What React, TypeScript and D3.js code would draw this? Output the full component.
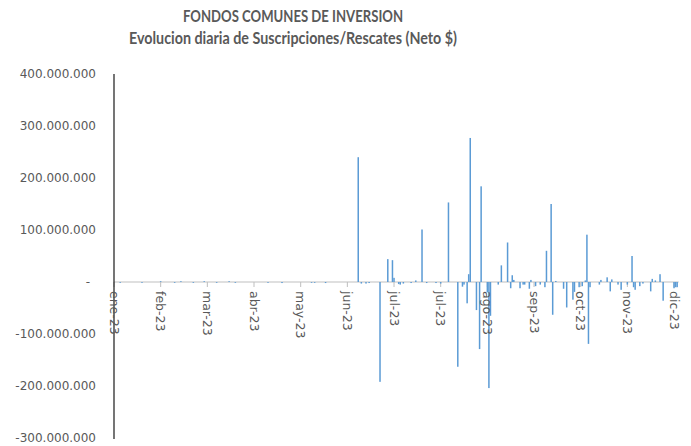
import React from "react";
import * as d3 from "d3";

const titleLine1 = "FONDOS COMUNES DE INVERSION";
const titleLine2 = "Evolucion diaria de Suscripciones/Rescates (Neto $)";

const dates = [
  "2023-01-06", "2023-01-20", "2023-02-01", "2023-02-10", "2023-02-14", "2023-02-22",
  "2023-03-01", "2023-03-09", "2023-03-17", "2023-03-21", "2023-04-11", "2023-04-20",
  "2023-05-09", "2023-05-11", "2023-05-18",
  "2023-06-08", "2023-06-10", "2023-06-13", "2023-06-15", "2023-06-22", "2023-06-27",
  "2023-06-30", "2023-07-01", "2023-07-04", "2023-07-05", "2023-07-07", "2023-07-12",
  "2023-07-15", "2023-07-19", "2023-07-22", "2023-07-28", "2023-07-31",
  "2023-08-05", "2023-08-11", "2023-08-14", "2023-08-15", "2023-08-17", "2023-08-18",
  "2023-08-19", "2023-08-23", "2023-08-25", "2023-08-26", "2023-08-30", "2023-08-31",
  "2023-09-01", "2023-09-06", "2023-09-08", "2023-09-12", "2023-09-14", "2023-09-15",
  "2023-09-16", "2023-09-20", "2023-09-22", "2023-09-23", "2023-09-26", "2023-09-27",
  "2023-09-30", "2023-10-03", "2023-10-06", "2023-10-07", "2023-10-10", "2023-10-11",
  "2023-10-13", "2023-10-18", "2023-10-20", "2023-10-24", "2023-10-25", "2023-10-28",
  "2023-10-30", "2023-11-01", "2023-11-02", "2023-11-03", "2023-11-04", "2023-11-10",
  "2023-11-11", "2023-11-15", "2023-11-17", "2023-11-18", "2023-11-22", "2023-11-24",
  "2023-11-28", "2023-12-01", "2023-12-02", "2023-12-03", "2023-12-06", "2023-12-08",
  "2023-12-13", "2023-12-14", "2023-12-16", "2023-12-19", "2023-12-21", "2023-12-28",
  "2023-12-29", "2023-12-30",
];

const values = [
  -1500000, -1500000, 1500000, -1500000, 1500000, -1500000,
  1500000, -1500000, 1500000, -1500000, -1500000, -2000000,
  -1500000, -1500000, -2000000,
  240000000, -3000000, -3000000, -2000000, -192000000, 44000000,
  42000000, 8000000, -4000000, -5000000, -3000000, -2000000,
  3000000, 101000000, -2000000, -2000000, -3000000,
  153000000, -163000000, -9000000, -5000000, -41000000, 15000000,
  277000000, -54000000, -129000000, 184000000, -20000000, -204000000,
  -65000000, -5000000, 32000000, 76000000, -12000000, 13000000,
  4000000, -12000000, -5000000, -5000000, -13000000, 4000000,
  -8000000, -5000000, -10000000, 60000000, 150000000, -63000000,
  2000000, -13000000, -49000000, -34000000, -19000000, -10000000,
  -8000000, 3000000, 91000000, -119000000, -10000000, -5000000,
  4000000, 9000000, -18000000, 5000000, -5000000, -15000000,
  -5000000, 50000000, -10000000, -15000000, -8000000, -3000000,
  -18000000, 6000000, 3000000, 15000000, -36000000, -12000000,
  -10000000, -10000000,
];

const tickDates = [
  "2023-01-02", "2023-02-01", "2023-03-03", "2023-04-02", "2023-05-02", "2023-06-01",
  "2023-07-01", "2023-07-31", "2023-08-30", "2023-09-29", "2023-10-29", "2023-11-28",
  "2023-12-28",
];
const tickLabels = [
  "ene-23", "feb-23", "mar-23", "abr-23", "may-23", "jun-23",
  "jul-23", "jul-23", "ago-23", "sep-23", "oct-23", "nov-23", "dic-23",
];

const yTicks = [400000000, 300000000, 200000000, 100000000, 0, -100000000, -200000000, -300000000];

const parse = d3.utcParse("%Y-%m-%d");
const locale = d3.formatLocale({
  decimal: ",",
  thousands: ".",
  grouping: [3],
  currency: ["$", ""],
  minus: "-",
});
const fmt = locale.format(",");

export default function App() {
  const W = 691;
  const H = 446;
  const x = d3
    .scaleUtc()
    .domain([parse("2023-01-02") as Date, parse("2023-12-31") as Date])
    .range([114, 678.7]);
  const y = d3.scaleLinear().domain([-300000000, 400000000]).range([438, 74]);
  const y0 = y(0);
  const textColor = "#595959";
  const axisFont = "'DejaVu Sans', Verdana, sans-serif";

  return (
    <svg
      width={W}
      height={H}
      style={{ position: "absolute", left: 0, top: 0, background: "#fff" }}
    >
      <rect x={0} y={0} width={W} height={H} fill="#fff" />
      <text
        x={293}
        y={22}
        textAnchor="middle"
        fill={textColor}
        fontFamily="Lato, 'Open Sans', sans-serif"
        fontWeight="bold"
        fontSize={17.5}
        textLength={220}
        lengthAdjust="spacingAndGlyphs"
      >
        {titleLine1}
      </text>
      <text
        x={293}
        y={43.5}
        textAnchor="middle"
        fill={textColor}
        fontFamily="Lato, 'Open Sans', sans-serif"
        fontWeight="bold"
        fontSize={17.5}
        textLength={328}
        lengthAdjust="spacingAndGlyphs"
      >
        {titleLine2}
      </text>

      {/* y tick labels */}
      {yTicks.map((t) => (
        <text
          key={t}
          x={t === 0 ? 90 : 96}
          y={y(t)}
          dy="0.35em"
          textAnchor="end"
          fill={textColor}
          fontFamily={axisFont}
          fontSize={12}
        >
          {t === 0 ? "-" : fmt(t)}
        </text>
      ))}

      {/* zero axis line */}
      <line x1={114} x2={678.7} y1={y0} y2={y0} stroke="#bfbfbf" strokeWidth={1} />
      {/* major ticks */}
      {tickDates.map((d, i) => {
        const px = x(parse(d) as Date);
        return (
          <line key={"t" + i} x1={px} x2={px} y1={y0} y2={y0 + 5} stroke="#bfbfbf" strokeWidth={1} />
        );
      })}

      {/* bars */}
      {dates.map((d, i) => {
        const px = x(parse(d) as Date);
        const v = values[i];
        const yv = y(v);
        return (
          <rect
            key={"b" + i}
            x={px - 0.75}
            y={Math.min(yv, y0)}
            width={1.5}
            height={Math.max(0.8, Math.abs(yv - y0))}
            fill="#5b9bd5"
          />
        );
      })}

      {/* y axis line */}
      <line x1={114} x2={114} y1={74} y2={439} stroke="#1a1a1a" strokeWidth={1.2} />

      {/* x tick labels */}
      {tickDates.map((d, i) => {
        const px = x(parse(d) as Date);
        return (
          <text
            key={"l" + i}
            transform={`translate(${px},${y0 + 9}) rotate(90)`}
            dy="0.35em"
            fill={textColor}
            fontFamily={axisFont}
            fontSize={12.5}
          >
            {tickLabels[i]}
          </text>
        );
      })}
    </svg>
  );
}
